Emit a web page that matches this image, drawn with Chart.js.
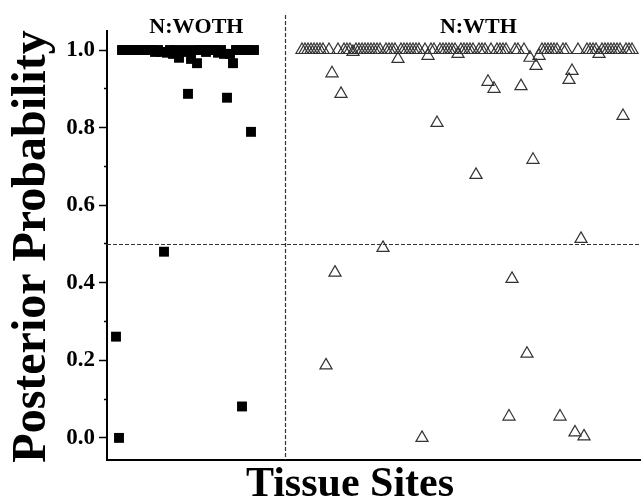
<!DOCTYPE html>
<html>
<head>
<meta charset="utf-8">
<script src="https://cdn.jsdelivr.net/npm/chart.js@4/dist/chart.umd.min.js"></script>
<style>
  body { margin: 0; background: #fff; }
</style>
</head>
<body>
<canvas id="chart" width="641" height="500"></canvas>
<script>
// site numbers along the x axis (no tick labels in the original)
const wothFirstSite = 3;
const wthFirstSite = 65;
const dividerSite = 59.3;
const cutoffProb = 0.5;

const groupNames = ["N:WOTH", "N:WTH"];
const groupLabelSites = [29.8, 123.8];

const yTicks = [0.0, 0.2, 0.4, 0.6, 0.8, 1.0];

// N:WOTH posterior probabilities, sites 3..49
const wothProb = [
  0.261, 0.0, 1, 1, 1, 1, 1, 1, 1, 1,
  1, 1, 1, 0.995, 1, 0.995, 0.48, 0.993, 1, 0.99,
  1, 0.98, 0.995, 1, 0.887, 0.977, 1, 0.966, 1, 1,
  0.995, 1, 1, 1, 0.993, 1, 0.99, 0.877, 0.99, 0.966,
  1, 1, 0.081, 1, 1, 0.789, 1
];

// N:WTH posterior probabilities, sites 65..175
const wthProb = [
  1, 1, 1, 1, 1, 1, 1, 1, 0.187, 1,
  0.94, 0.426, 1, 0.887, 1, 1, 1, 0.995, 1, 1,
  1, 1, 1, 1, 1, 1, 1, 0.49, 1, 1,
  1, 1, 0.977, 1, 1, 1, 1, 1, 1, 1,
  0.0, 1, 0.985, 1, 1, 0.812, 1, 1, 1, 1,
  1, 1, 0.99, 1, 1, 1, 1, 1, 0.678, 1,
  1, 1, 0.918, 1, 0.90, 1, 1, 1, 1, 0.055,
  0.41, 1, 1, 0.907, 1, 0.217, 0.98, 0.717, 0.959, 0.985,
  1, 1, 1, 1, 1, 1, 0.055, 1, 1, 0.923,
  0.946, 0.014, 1, 0.513, 0.004, 1, 1, 1, 1, 0.99,
  1, 1, 1, 1, 1, 1, 1, 0.83, 1, 1,
  1
];

const serif = '"Liberation Serif", "Times New Roman", serif';

function isMajor(value) {
  const v = Math.round(value * 10) / 10;
  return yTicks.some(t => Math.abs(t - v) < 1e-6);
}

// dashed guide lines + text labels
const overlayPlugin = {
  id: "overlay",
  afterDatasetsDraw(chart) {
    const ctx = chart.ctx;
    const xs = chart.scales.x;
    const ys = chart.scales.y;
    const area = chart.chartArea;
    ctx.save();
    ctx.strokeStyle = "#333";
    ctx.lineWidth = 1.2;
    ctx.setLineDash([4, 2]);
    const yc = Math.round(ys.getPixelForValue(cutoffProb)) + 0.5;
    ctx.beginPath();
    ctx.moveTo(area.left, yc);
    ctx.lineTo(area.right, yc);
    ctx.stroke();
    const xd = Math.round(xs.getPixelForValue(dividerSite)) + 0.5;
    ctx.beginPath();
    ctx.moveTo(xd, 15);
    ctx.lineTo(xd, area.bottom);
    ctx.stroke();
    ctx.restore();
  },
  afterDraw(chart) {
    const ctx = chart.ctx;
    const xs = chart.scales.x;
    ctx.save();
    ctx.fillStyle = "#000";
    ctx.textAlign = "center";
    ctx.textBaseline = "alphabetic";

    ctx.font = "bold 22px " + serif;
    groupNames.forEach((name, i) => {
      ctx.fillText(name, xs.getPixelForValue(groupLabelSites[i]), 33);
    });

    ctx.font = "bold 42px " + serif;
    ctx.fillText("Tissue Sites", 350, 496);

    ctx.translate(45, 246.5);
    ctx.rotate(-Math.PI / 2);
    ctx.font = "bold 48px " + serif;
    ctx.fillText("Posterior Probability", 0, 0);
    ctx.restore();
  }
};

new Chart(document.getElementById("chart"), {
  type: "scatter",
  data: {
    datasets: [
      {
        label: "N:WOTH",
        data: wothProb.map((p, i) => ({ x: wothFirstSite + i, y: p })),
        pointStyle: "rect",
        pointRadius: 7,
        backgroundColor: "#000",
        borderColor: "#000",
        borderWidth: 0
      },
      {
        label: "N:WTH",
        data: wthProb.map((p, i) => ({ x: wthFirstSite + i, y: p })),
        pointStyle: "triangle",
        pointRadius: 7,
        backgroundColor: "rgba(0,0,0,0)",
        borderColor: "#333",
        borderWidth: 1.2
      }
    ]
  },
  options: {
    responsive: false,
    animation: false,
    clip: false,
    layout: {
      autoPadding: false,
      padding: { top: 31, right: 0, left: 0, bottom: 0 }
    },
    plugins: {
      legend: { display: false },
      tooltip: { enabled: false }
    },
    scales: {
      x: {
        type: "linear",
        min: 0,
        max: 178,
        grid: { display: false },
        ticks: { display: false },
        border: { display: true, color: "#000", width: 2 },
        afterFit(scale) { scale.height = 40; }
      },
      y: {
        min: -0.057,
        max: 1.049,
        ticks: {
          stepSize: 0.1,
          includeBounds: false,
          padding: 4,
          color: "#000",
          font: { family: serif, size: 23, weight: "bold" },
          callback(value) {
            return isMajor(value) ? (Math.round(value * 10) / 10).toFixed(1) : "";
          }
        },
        grid: {
          drawOnChartArea: false,
          drawTicks: true,
          tickLength: 8,
          tickWidth: 1.5,
          tickColor: "#000",
          tickBorderDash(ctx) {
            return isMajor(ctx.tick.value) ? [] : [0, 5, 3, 20];
          }
        },
        border: { display: true, color: "#000", width: 2 },
        afterFit(scale) { scale.width = 107; }
      }
    }
  },
  plugins: [overlayPlugin]
});
</script>
</body>
</html>
